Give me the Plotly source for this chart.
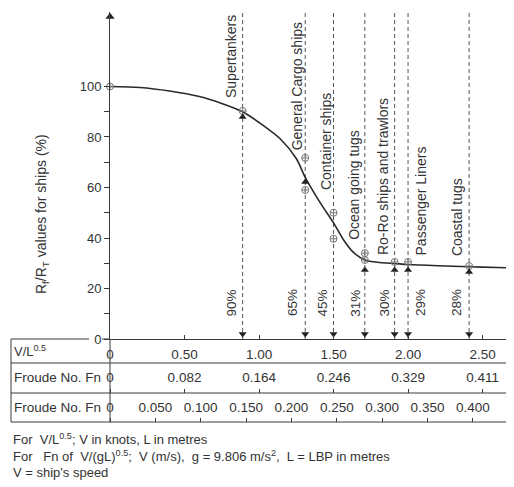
import plotly.graph_objects as go

# ---------------- data ----------------
ship_names = ["Supertankers", "General Cargo ships", "Container ships", "Ocean going tugs",
              "Ro-Ro ships and trawlors", "Passenger Liners", "Coastal tugs"]
ship_vl = [0.89, 1.31, 1.50, 1.71, 1.91, 2.00, 2.41]
ship_pct = [90, 65, 45, 31, 30, 29, 28]

curve_vl = [0, 0.2, 0.4, 0.6, 0.75, 0.89, 1.03, 1.14, 1.25, 1.31, 1.41, 1.50, 1.57, 1.63,
            1.71, 1.81, 1.91, 2.00, 2.20, 2.41, 2.60, 2.711]
curve_pct = [100, 99.6, 98.2, 96, 93.3, 90, 84.5, 79.4, 71.5, 64, 54, 46, 39, 34.5,
             31.3, 30.3, 29.9, 29.5, 29.0, 28.6, 28.3, 28.1]

circ_vl = [0, 0.89, 1.31, 1.31, 1.50, 1.50, 1.71, 1.71, 1.91, 2.00, 2.41]
circ_pct = [100, 90.3, 71.7, 59, 50, 39.7, 34, 31.3, 30.5, 30.5, 28.9]

tri_vl = [0.89, 1.31, 1.71, 1.91, 2.00, 2.41]
tri_pct = [87.9, 62.2, 27.3, 27.3, 27.3, 26.5]

y_ticks = [0, 20, 40, 60, 80, 100]
y_minor = [10, 30, 50, 70, 90]
vl_ticks = [0, 0.5, 1.0, 1.5, 2.0, 2.5]
vl_ticktext = ["0", "0.50", "1.00", "1.50", "2.00", "2.50"]
fn1_ticktext = ["0", "0.082", "0.164", "0.246", "0.329", "0.411"]
fn2_ticks = [0, 0.05, 0.10, 0.15, 0.20, 0.25, 0.30, 0.35, 0.40]
fn2_ticktext = ["0", "0.050", "0.100", "0.150", "0.200", "0.250", "0.300", "0.350", "0.400"]
FN_PER_VL = 0.16427  # Fn = 0.16427 * V/L^0.5

# ---------------- layout constants ----------------
# the page body has an 8px margin, so the figure sits at (8, 8) in the window
OFF = 8
W, H = 514, 487
ML, MR, MT, MB = 110 - OFF, OFF, 12 - OFF, H - (422 - OFF)
PW, PH = W - ML - MR, H - MT - MB
XMAX = 2.711
YMAX = 129.5
AXIS_PX = 339


def px_x(p):
    return (p - OFF - ML) / PW


def px_y(p):
    return (H - MB - (p - OFF)) / PH


FONT = "Liberation Sans, Arial, sans-serif"
TXT = "#333333"
LINE = "#3a3a3a"

fig = go.Figure()

# dashed vertical lines
dx, dy = [], []
for v in ship_vl:
    dx += [v, v, None]
    dy += [0, YMAX, None]
fig.add_trace(go.Scatter(x=dx, y=dy, mode="lines", line=dict(color="#555555", width=1, dash="4px,3px"),
                         hoverinfo="skip", showlegend=False))

# curve
fig.add_trace(go.Scatter(x=curve_vl, y=curve_pct, mode="lines",
                         line=dict(color="#2a2a2a", width=1.6, shape="spline", smoothing=0.8),
                         showlegend=False, cliponaxis=False))

# circle-cross markers
fig.add_trace(go.Scatter(x=circ_vl, y=circ_pct, mode="markers",
                         marker=dict(symbol="circle-cross-open", size=7, color="#777777", line=dict(width=1)),
                         showlegend=False, cliponaxis=False))

# up arrowheads at curve
fig.add_trace(go.Scatter(x=tri_vl, y=tri_pct, mode="markers",
                         marker=dict(symbol="triangle-up", size=7, color="#222222"),
                         showlegend=False, cliponaxis=False))

# down arrowheads at axis
fig.add_trace(go.Scatter(x=ship_vl, y=[2.0] * len(ship_vl), mode="markers",
                         marker=dict(symbol="triangle-down", size=7, color="#222222"),
                         showlegend=False, cliponaxis=False))

# y axis arrow head
fig.add_trace(go.Scatter(x=[0], y=[127.6], mode="markers",
                         marker=dict(symbol="triangle-up", size=8, color="#222222"),
                         showlegend=False, cliponaxis=False))

# ship labels and percentages
label_xshift = [-11, -8, -8, -11, -11, 13, -12]
label_ybottom = [94.7, 74, 58.2, 38.4, 32.5, 32.1, 32.1]
pct_xshift = [-11, -12, -11, -9, -10, 13, -12]
anns = []
for name, v, pct, xs, yb, pxs in zip(ship_names, ship_vl, ship_pct, label_xshift, label_ybottom, pct_xshift):
    anns.append(dict(x=v, y=yb, xref="x", yref="y", text=name, showarrow=False, textangle=-90,
                     xshift=xs, xanchor="center", yanchor="bottom",
                     font=dict(family=FONT, size=14, color=TXT)))
    anns.append(dict(x=v, y=14.3, xref="x", yref="y", text=f"{pct}%", showarrow=False, textangle=-90,
                     xshift=pxs, xanchor="center", yanchor="middle",
                     font=dict(family=FONT, size=13.5, color=TXT)))

# y title
anns.append(dict(x=px_x(42), y=px_y(214), xref="paper", yref="paper",
                 text="R<sub>f</sub>/R<sub>T</sub> values for ships (%)", showarrow=False, textangle=-90,
                 xanchor="center", yanchor="middle", font=dict(family=FONT, size=14, color=TXT)))

# table row labels
anns.append(dict(x=px_x(12), y=px_y(341), xref="paper", yref="paper", text="V/L<sup>0.5</sup>",
                 showarrow=False, xanchor="left", yanchor="top", font=dict(family=FONT, size=13, color=TXT)))
anns.append(dict(x=px_x(12), y=px_y(377), xref="paper", yref="paper", text="Froude No. Fn",
                 showarrow=False, xanchor="left", yanchor="middle", font=dict(family=FONT, size=13.5, color=TXT)))
anns.append(dict(x=px_x(12), y=px_y(407), xref="paper", yref="paper", text="Froude No. Fn",
                 showarrow=False, xanchor="left", yanchor="middle", font=dict(family=FONT, size=13.5, color=TXT)))

# footnotes
notes = ["For&nbsp;&nbsp;V/L<sup>0.5</sup>; V in knots, L in metres",
         "For&nbsp;&nbsp;&nbsp;Fn of&nbsp; V/(gL)<sup>0.5</sup>;&nbsp; V (m/s),&nbsp; g = 9.806 m/s<sup>2</sup>,&nbsp; L = LBP in metres",
         "V = ship's speed"]
note_y = [439, 456, 472]
for t, ny in zip(notes, note_y):
    anns.append(dict(x=px_x(11), y=px_y(ny), xref="paper", yref="paper", text=t,
                     showarrow=False, xanchor="left", yanchor="middle",
                     font=dict(family=FONT, size=13, color=TXT)))

# table lines
shapes = []


def hline(y, x0, x1):
    shapes.append(dict(type="line", xref="paper", yref="paper", x0=px_x(x0), x1=px_x(x1),
                       y0=px_y(y), y1=px_y(y), line=dict(color=LINE, width=1)))


def vline(x, y0, y1):
    shapes.append(dict(type="line", xref="paper", yref="paper", x0=px_x(x), x1=px_x(x),
                       y0=px_y(y0), y1=px_y(y1), line=dict(color=LINE, width=1)))


hline(AXIS_PX, 11, 89)
hline(AXIS_PX, 102, 110)
hline(363, 11, W)
hline(393, 11, W)
hline(422, 11, W)
vline(11, AXIS_PX, 422)
vline(110, AXIS_PX, 422)

ydom0 = px_y(AXIS_PX)
tickfont = dict(family=FONT, size=13.5, color=TXT)

fig.update_layout(
    width=W, height=H,
    margin=dict(l=ML, r=MR, t=MT, b=MB),
    plot_bgcolor="white", paper_bgcolor="white",
    showlegend=False,
    annotations=anns, shapes=shapes,
    xaxis=dict(domain=[0, 1], range=[0, XMAX], anchor="y", showgrid=False, zeroline=False,
               showline=True, linecolor=LINE, linewidth=1,
               tickmode="array", tickvals=vl_ticks, ticktext=vl_ticktext,
               ticks="inside", ticklen=4, tickcolor=LINE, ticklabelstandoff=3, tickfont=tickfont),
    xaxis2=dict(overlaying="x", anchor="free", position=px_y(393), side="top", range=[0, XMAX],
                showgrid=False, zeroline=False, showline=False,
                tickmode="array", tickvals=vl_ticks, ticktext=fn1_ticktext,
                ticks="outside", ticklen=4, tickcolor=LINE, ticklabelstandoff=2, tickfont=tickfont),
    xaxis3=dict(overlaying="x", anchor="free", position=0, side="top", range=[0, XMAX * FN_PER_VL],
                showgrid=False, zeroline=False, showline=False,
                tickmode="array", tickvals=fn2_ticks, ticktext=fn2_ticktext,
                ticks="outside", ticklen=4, tickcolor=LINE, ticklabelstandoff=1, tickfont=tickfont),
    yaxis=dict(domain=[ydom0, 1], range=[0, YMAX], showgrid=False, zeroline=False,
               showline=True, linecolor=LINE, linewidth=1,
               tickmode="array", tickvals=y_ticks, ticks="outside", ticklen=5, tickcolor=LINE,
               minor=dict(tickvals=y_minor, ticks="outside", ticklen=5, tickcolor=LINE),
               tickfont=dict(family=FONT, size=13, color=TXT)),
)

# dummy traces to activate the extra axes
fig.add_trace(go.Scatter(x=[None], y=[None], xaxis="x2", showlegend=False, hoverinfo="skip"))
fig.add_trace(go.Scatter(x=[None], y=[None], xaxis="x3", showlegend=False, hoverinfo="skip"))

fig.write_html("out.html")
